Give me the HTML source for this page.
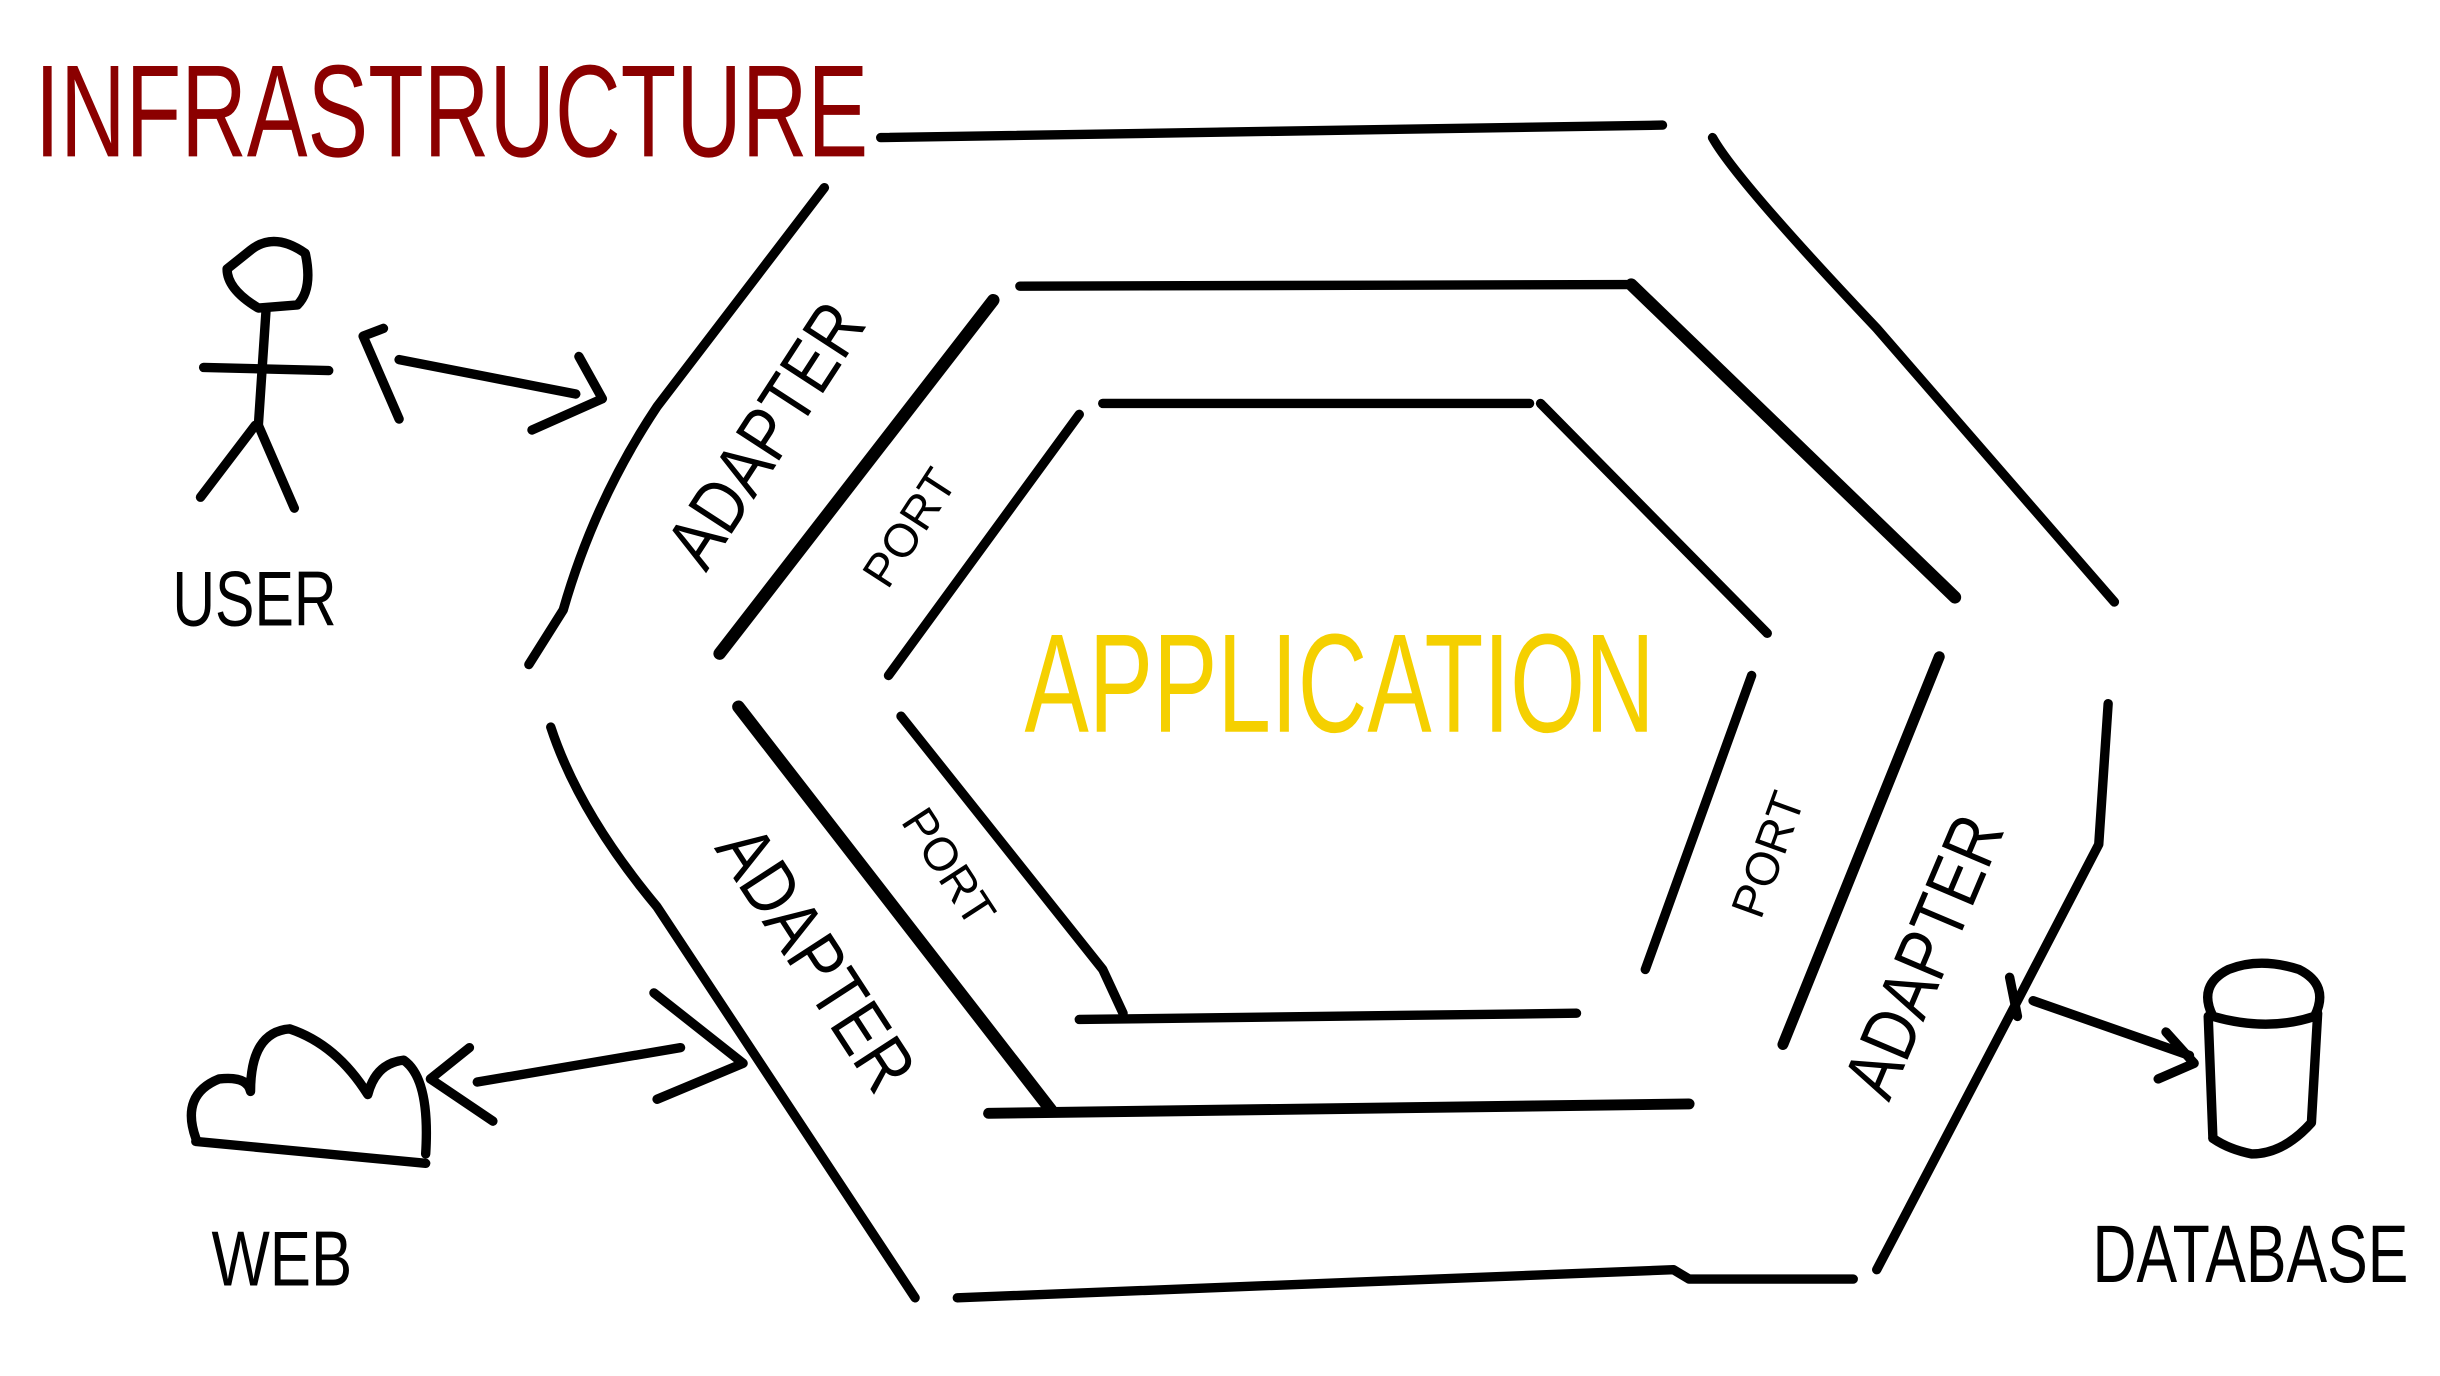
<!DOCTYPE html>
<html><head><meta charset="utf-8">
<style>
html,body{margin:0;padding:0;background:#fff;}
svg{display:block;}
text{font-family:"Liberation Sans Narrow","Liberation Sans",sans-serif;}
</style></head>
<body>
<svg width="2440" height="1376" viewBox="0 0 1560 880" xmlns="http://www.w3.org/2000/svg">
<g fill="none" stroke="#000" stroke-width="6" stroke-linecap="round" stroke-linejoin="round">
<path d="M563,88 L1063,80"/>
<path d="M1095,88 Q1110,115 1200,210 L1352,385"/>
<path d="M1348,450 L1342,540 L1290,640 L1200,812"/>
<path d="M612,830 L1070,812 L1080,818 L1185,818"/>
<path d="M352,465 Q370,520 420,580 L585,830"/>
<path d="M527,120 L420,260 Q380,320 360,390 L338,425"/>
<path d="M652,183 L1040,182"/>
<path d="M1043,182 L1250,382" stroke-width="8"/>
<path d="M1240,420 L1140,668" stroke-width="7"/>
<path d="M632,712 L1080,706" stroke-width="7"/>
<path d="M472,452 L672,710" stroke-width="8"/>
<path d="M635,192 L460,418" stroke-width="8"/>
<path d="M705,258 L978,258"/>
<path d="M985,258 L1130,405"/>
<path d="M1120,432 L1052,620"/>
<path d="M690,652 L1008,648"/>
<path d="M576,458 L705,620 L718,648"/>
<path d="M690,265 L568,432"/>
<path d="M160,160 Q175,148 195,162 Q200,185 190,195 L165,197 Q145,185 145,172 Z"/>
<path d="M170,197 L165,272"/>
<path d="M130,235 L210,237"/>
<path d="M163,272 L128,318"/>
<path d="M165,272 L188,325"/>
<path d="M245,210 L232,215 L255,268"/>
<path d="M255,230 L368,252"/>
<path d="M370,228 L385,255 L340,275"/>
<path d="M125,730 L272,744"/>
<path d="M125,728 Q115,700 140,690 Q158,688 160,698 Q160,660 185,658 Q215,668 235,700 Q240,680 258,678 Q275,690 272,738"/>
<path d="M300,670 L275,690 L315,717"/>
<path d="M305,692 L435,670"/>
<path d="M418,635 L475,680 L420,703"/>
<path d="M1285,625 L1290,650"/>
<path d="M1300,640 L1400,675"/>
<path d="M1385,660 L1403,680 L1380,690"/>
<path d="M1425,620 Q1445,612 1470,620 Q1490,630 1480,650 Q1450,660 1415,650 Q1405,630 1425,620 Z"/>
<path d="M1412,650 L1415,728"/>
<path d="M1482,648 L1478,718 Q1460,738 1440,738 Q1425,735 1415,728"/>
</g>
<text x="22" y="100" font-size="84" fill="#8b0000" textLength="533" lengthAdjust="spacingAndGlyphs">INFRASTRUCTURE</text>
<text x="655" y="468" font-size="90" fill="#f5d000" textLength="403" lengthAdjust="spacingAndGlyphs">APPLICATION</text>
<text x="110" y="400" font-size="50" textLength="105" lengthAdjust="spacingAndGlyphs">USER</text>
<text x="135" y="822" font-size="50" textLength="90" lengthAdjust="spacingAndGlyphs">WEB</text>
<text x="1338" y="820" font-size="52" textLength="202" lengthAdjust="spacingAndGlyphs">DATABASE</text>
<g font-size="48" text-anchor="middle">
<text transform="translate(503,287) rotate(-57)" textLength="190" lengthAdjust="spacingAndGlyphs">ADAPTER</text>
<text transform="translate(508,622) rotate(57)" textLength="190" lengthAdjust="spacingAndGlyphs">ADAPTER</text>
<text transform="translate(1245,618) rotate(-67)" textLength="190" lengthAdjust="spacingAndGlyphs">ADAPTER</text>
</g>
<g font-size="30" text-anchor="middle">
<text transform="translate(590,343) rotate(-57)">PORT</text>
<text transform="translate(598,560) rotate(57)">PORT</text>
<text transform="translate(1140,550) rotate(-70)">PORT</text>
</g>
</svg>
</body></html>
